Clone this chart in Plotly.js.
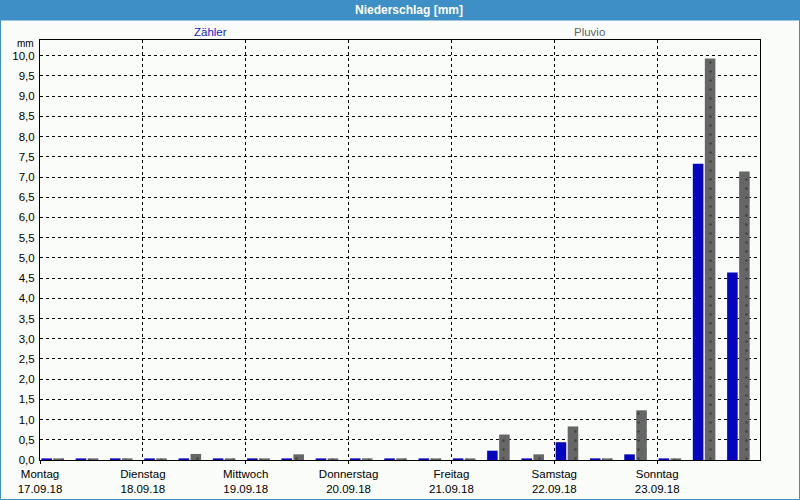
<!DOCTYPE html>
<html>
<head>
<meta charset="utf-8">
<script src="https://cdn.plot.ly/plotly-3.0.1.min.js"></script>
<style>html,body{margin:0;padding:0;background:#fafcfa;}#chart{width:800px;height:500px;}</style>
</head>
<body>
<div id="chart"></div>
<script>
// 8-hour intervals, 3 per day, 17.09.18 - 23.09.18
var dayNames = ["Montag","Dienstag","Mittwoch","Donnerstag","Freitag","Samstag","Sonntag"];
var dayDates = ["17.09.18","18.09.18","19.09.18","20.09.18","21.09.18","22.09.18","23.09.18"];
var intervals = [0,1,2,3,4,5,6,7,8,9,10,11,12,13,14,15,16,17,18,19,20];
var zaehler = [0.04,0.04,0.04, 0.04,0.04,0.04, 0.04,0.04,0.04, 0.04,0.04,0.04, 0.04,0.23,0.04, 0.44,0.04,0.14, 0.04,7.33,4.64];
var pluvio  = [0.04,0.04,0.04, 0.04,0.15,0.04, 0.04,0.14,0.04, 0.04,0.04,0.04, 0.04,0.63,0.14, 0.83,0.04,1.23, 0.04,9.93,7.14];

var FONT = "Liberation Sans, Arial, sans-serif";
var shift = 0.37; // bar pair sits left of interval centre
var W = 720, H = 420; // plot area px
var tickvals = dayNames.map(function(d,k){ return k*3 - shift; });
var ticktext = dayNames.map(function(d,k){ return d + "<br>" + dayDates[k]; });

var traces = [
  {type:"bar", name:"Zähler", x:intervals, y:zaehler,
   marker:{color:"#0505c0", line:{width:0}}, hoverinfo:"y"},
  {type:"bar", name:"Pluvio", x:intervals, y:pluvio,
   marker:{color:"#646464", line:{width:0},
     pattern:{shape:".", bgcolor:"#666666", fgcolor:"#404040", size:9, solidity:0.06}}, hoverinfo:"y"}
];

var layout = {
  width:800, height:500,
  margin:{l:40, r:40, t:40, b:40, pad:0},
  paper_bgcolor:"#fafcfa", plot_bgcolor:"#fafcfa",
  showlegend:false,
  barmode:"group", bargap:0.3, bargroupgap:0.12,
  separators:",.",
  font:{family:FONT, size:11, color:"#000"},
  xaxis:{
    range:[-shift, 21 - shift], tickmode:"array", tickvals:tickvals, ticktext:ticktext,
    showgrid:true, gridcolor:"#000", gridwidth:1, griddash:"3px,3px",
    showline:true, mirror:true, linecolor:"#000", linewidth:1,
    ticks:"outside", ticklen:3, tickcolor:"#000",
    zeroline:false, tickfont:{family:FONT, size:11.5, color:"#000"}, fixedrange:true
  },
  yaxis:{
    range:[0, 10.39], tickmode:"linear", tick0:0, dtick:0.5, tickformat:".1f",
    showgrid:true, gridcolor:"#000", gridwidth:1, griddash:"3px,3px",
    showline:true, mirror:true, linecolor:"#000", linewidth:1,
    ticks:"", zeroline:false, ticklabelstandoff:2,
    tickfont:{family:FONT, size:11.5, color:"#000"}, fixedrange:true
  },
  shapes:[
    {type:"rect", xref:"paper", yref:"paper", layer:"below",
     x0:-40/W, x1:1+40/W, y0:1+20/H, y1:1+40/H,
     fillcolor:"#3d8fc5", line:{width:0}},
    {type:"rect", xref:"paper", yref:"paper", layer:"above",
     x0:-39.5/W, x1:1+39.5/W, y0:-39.5/H, y1:1+20/H,
     fillcolor:"rgba(0,0,0,0)", line:{width:1, color:"#3d8fc5"}}
  ],
  annotations:[
    {text:"<b>Niederschlag [mm]</b>", xref:"paper", yref:"paper",
     x:(409.5-40)/W, y:1+30/H, xanchor:"center", yanchor:"middle", showarrow:false,
     font:{family:FONT, size:12, color:"#ffffff"}},
    {text:"Zähler", xref:"paper", yref:"paper", x:(210-40)/W, y:1+8/H,
     xanchor:"center", yanchor:"middle", showarrow:false,
     font:{family:FONT, size:11.5, color:"#1818c8"}},
    {text:"Pluvio", xref:"paper", yref:"paper", x:(589-40)/W, y:1+8/H,
     xanchor:"center", yanchor:"middle", showarrow:false,
     font:{family:FONT, size:11.5, color:"#646464"}},
    {text:"mm", xref:"paper", yref:"paper", x:-4/W, y:1-4/H,
     xanchor:"right", yanchor:"middle", showarrow:false,
     font:{family:FONT, size:10, color:"#000"}}
  ]
};

Plotly.newPlot("chart", traces, layout, {staticPlot:true, displayModeBar:false});
</script>
</body>
</html>
